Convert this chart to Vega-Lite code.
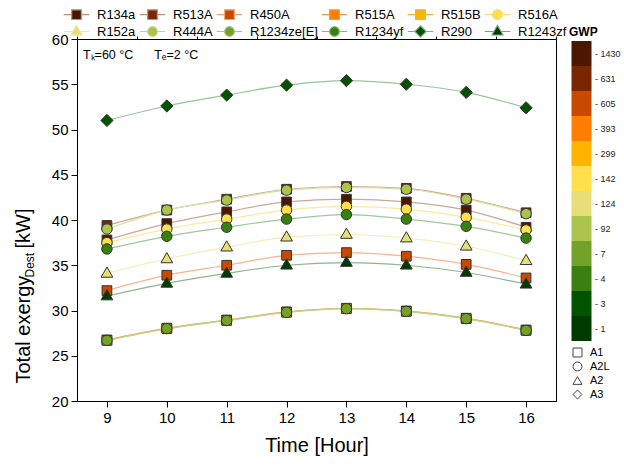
{
  "$schema": "https://vega.github.io/schema/vega-lite/v6.json",
  "width": 479,
  "height": 362,
  "autosize": "none",
  "padding": {"left": 77, "top": 39, "right": 68, "bottom": 65},
  "background": "white",
  "config": {
    "font": "Liberation Sans",
    "view": {"stroke": "#000", "strokeWidth": 1},
    "axis": {"domainColor": "#000", "tickColor": "#000", "labelColor": "#000", "titleColor": "#000", "grid": false, "labelFontSize": 15, "titleFontSize": 20, "titleFontWeight": "normal", "ticks": true, "tickSize": 6, "tickWidth": 1, "labelPadding": 3},
    "legend": {"labelFont": "Liberation Sans", "labelColor": "#000"}
  },
  "datasets": {
    "main": [
      {"r": "R134a", "gwp": "1430", "safety": "A1", "h": 9, "v": 37.8}, {"r": "R134a", "gwp": "1430", "safety": "A1", "h": 10, "v": 39.6}, {"r": "R134a", "gwp": "1430", "safety": "A1", "h": 11, "v": 40.9}, {"r": "R134a", "gwp": "1430", "safety": "A1", "h": 12, "v": 42.0}, {"r": "R134a", "gwp": "1430", "safety": "A1", "h": 13, "v": 42.3}, {"r": "R134a", "gwp": "1430", "safety": "A1", "h": 14, "v": 42.0}, {"r": "R134a", "gwp": "1430", "safety": "A1", "h": 15, "v": 41.1}, {"r": "R134a", "gwp": "1430", "safety": "A1", "h": 16, "v": 39.2},
      {"r": "R513A", "gwp": "631", "safety": "A1", "h": 9, "v": 39.4}, {"r": "R513A", "gwp": "631", "safety": "A1", "h": 10, "v": 41.1}, {"r": "R513A", "gwp": "631", "safety": "A1", "h": 11, "v": 42.3}, {"r": "R513A", "gwp": "631", "safety": "A1", "h": 12, "v": 43.4}, {"r": "R513A", "gwp": "631", "safety": "A1", "h": 13, "v": 43.7}, {"r": "R513A", "gwp": "631", "safety": "A1", "h": 14, "v": 43.5}, {"r": "R513A", "gwp": "631", "safety": "A1", "h": 15, "v": 42.4}, {"r": "R513A", "gwp": "631", "safety": "A1", "h": 16, "v": 40.8},
      {"r": "R450A", "gwp": "605", "safety": "A1", "h": 9, "v": 32.2}, {"r": "R450A", "gwp": "605", "safety": "A1", "h": 10, "v": 33.9}, {"r": "R450A", "gwp": "605", "safety": "A1", "h": 11, "v": 35.0}, {"r": "R450A", "gwp": "605", "safety": "A1", "h": 12, "v": 36.1}, {"r": "R450A", "gwp": "605", "safety": "A1", "h": 13, "v": 36.4}, {"r": "R450A", "gwp": "605", "safety": "A1", "h": 14, "v": 36.0}, {"r": "R450A", "gwp": "605", "safety": "A1", "h": 15, "v": 35.1}, {"r": "R450A", "gwp": "605", "safety": "A1", "h": 16, "v": 33.6},
      {"r": "R515A", "gwp": "393", "safety": "A1", "h": 9, "v": 26.75}, {"r": "R515A", "gwp": "393", "safety": "A1", "h": 10, "v": 28.05}, {"r": "R515A", "gwp": "393", "safety": "A1", "h": 11, "v": 28.95}, {"r": "R515A", "gwp": "393", "safety": "A1", "h": 12, "v": 29.85}, {"r": "R515A", "gwp": "393", "safety": "A1", "h": 13, "v": 30.25}, {"r": "R515A", "gwp": "393", "safety": "A1", "h": 14, "v": 29.95}, {"r": "R515A", "gwp": "393", "safety": "A1", "h": 15, "v": 29.15}, {"r": "R515A", "gwp": "393", "safety": "A1", "h": 16, "v": 27.85},
      {"r": "R515B", "gwp": "299", "safety": "A1", "h": 9, "v": 26.7}, {"r": "R515B", "gwp": "299", "safety": "A1", "h": 10, "v": 28.0}, {"r": "R515B", "gwp": "299", "safety": "A1", "h": 11, "v": 28.9}, {"r": "R515B", "gwp": "299", "safety": "A1", "h": 12, "v": 29.8}, {"r": "R515B", "gwp": "299", "safety": "A1", "h": 13, "v": 30.2}, {"r": "R515B", "gwp": "299", "safety": "A1", "h": 14, "v": 29.9}, {"r": "R515B", "gwp": "299", "safety": "A1", "h": 15, "v": 29.1}, {"r": "R515B", "gwp": "299", "safety": "A1", "h": 16, "v": 27.8},
      {"r": "R516A", "gwp": "142", "safety": "A2L", "h": 9, "v": 37.5}, {"r": "R516A", "gwp": "142", "safety": "A2L", "h": 10, "v": 39.0}, {"r": "R516A", "gwp": "142", "safety": "A2L", "h": 11, "v": 40.1}, {"r": "R516A", "gwp": "142", "safety": "A2L", "h": 12, "v": 41.1}, {"r": "R516A", "gwp": "142", "safety": "A2L", "h": 13, "v": 41.5}, {"r": "R516A", "gwp": "142", "safety": "A2L", "h": 14, "v": 41.2}, {"r": "R516A", "gwp": "142", "safety": "A2L", "h": 15, "v": 40.3}, {"r": "R516A", "gwp": "142", "safety": "A2L", "h": 16, "v": 38.9},
      {"r": "R152a", "gwp": "124", "safety": "A2", "h": 9, "v": 34.1}, {"r": "R152a", "gwp": "124", "safety": "A2", "h": 10, "v": 35.7}, {"r": "R152a", "gwp": "124", "safety": "A2", "h": 11, "v": 37.0}, {"r": "R152a", "gwp": "124", "safety": "A2", "h": 12, "v": 38.1}, {"r": "R152a", "gwp": "124", "safety": "A2", "h": 13, "v": 38.4}, {"r": "R152a", "gwp": "124", "safety": "A2", "h": 14, "v": 38.0}, {"r": "R152a", "gwp": "124", "safety": "A2", "h": 15, "v": 37.1}, {"r": "R152a", "gwp": "124", "safety": "A2", "h": 16, "v": 35.5},
      {"r": "R444A", "gwp": "92", "safety": "A2L", "h": 9, "v": 39.0}, {"r": "R444A", "gwp": "92", "safety": "A2L", "h": 10, "v": 41.1}, {"r": "R444A", "gwp": "92", "safety": "A2L", "h": 11, "v": 42.2}, {"r": "R444A", "gwp": "92", "safety": "A2L", "h": 12, "v": 43.3}, {"r": "R444A", "gwp": "92", "safety": "A2L", "h": 13, "v": 43.6}, {"r": "R444A", "gwp": "92", "safety": "A2L", "h": 14, "v": 43.4}, {"r": "R444A", "gwp": "92", "safety": "A2L", "h": 15, "v": 42.3}, {"r": "R444A", "gwp": "92", "safety": "A2L", "h": 16, "v": 40.7},
      {"r": "R1234ze[E]", "gwp": "7", "safety": "A2L", "h": 9, "v": 26.7}, {"r": "R1234ze[E]", "gwp": "7", "safety": "A2L", "h": 10, "v": 28.0}, {"r": "R1234ze[E]", "gwp": "7", "safety": "A2L", "h": 11, "v": 28.9}, {"r": "R1234ze[E]", "gwp": "7", "safety": "A2L", "h": 12, "v": 29.8}, {"r": "R1234ze[E]", "gwp": "7", "safety": "A2L", "h": 13, "v": 30.2}, {"r": "R1234ze[E]", "gwp": "7", "safety": "A2L", "h": 14, "v": 29.9}, {"r": "R1234ze[E]", "gwp": "7", "safety": "A2L", "h": 15, "v": 29.1}, {"r": "R1234ze[E]", "gwp": "7", "safety": "A2L", "h": 16, "v": 27.8},
      {"r": "R1234yf", "gwp": "4", "safety": "A2L", "h": 9, "v": 36.8}, {"r": "R1234yf", "gwp": "4", "safety": "A2L", "h": 10, "v": 38.2}, {"r": "R1234yf", "gwp": "4", "safety": "A2L", "h": 11, "v": 39.2}, {"r": "R1234yf", "gwp": "4", "safety": "A2L", "h": 12, "v": 40.1}, {"r": "R1234yf", "gwp": "4", "safety": "A2L", "h": 13, "v": 40.6}, {"r": "R1234yf", "gwp": "4", "safety": "A2L", "h": 14, "v": 40.1}, {"r": "R1234yf", "gwp": "4", "safety": "A2L", "h": 15, "v": 39.3}, {"r": "R1234yf", "gwp": "4", "safety": "A2L", "h": 16, "v": 38.0},
      {"r": "R290", "gwp": "3", "safety": "A3", "h": 9, "v": 51.0}, {"r": "R290", "gwp": "3", "safety": "A3", "h": 10, "v": 52.6}, {"r": "R290", "gwp": "3", "safety": "A3", "h": 11, "v": 53.8}, {"r": "R290", "gwp": "3", "safety": "A3", "h": 12, "v": 54.9}, {"r": "R290", "gwp": "3", "safety": "A3", "h": 13, "v": 55.4}, {"r": "R290", "gwp": "3", "safety": "A3", "h": 14, "v": 55.0}, {"r": "R290", "gwp": "3", "safety": "A3", "h": 15, "v": 54.1}, {"r": "R290", "gwp": "3", "safety": "A3", "h": 16, "v": 52.4},
      {"r": "R1243zf", "gwp": "1", "safety": "A2", "h": 9, "v": 31.6}, {"r": "R1243zf", "gwp": "1", "safety": "A2", "h": 10, "v": 33.0}, {"r": "R1243zf", "gwp": "1", "safety": "A2", "h": 11, "v": 34.1}, {"r": "R1243zf", "gwp": "1", "safety": "A2", "h": 12, "v": 35.0}, {"r": "R1243zf", "gwp": "1", "safety": "A2", "h": 13, "v": 35.3}, {"r": "R1243zf", "gwp": "1", "safety": "A2", "h": 14, "v": 35.0}, {"r": "R1243zf", "gwp": "1", "safety": "A2", "h": 15, "v": 34.2}, {"r": "R1243zf", "gwp": "1", "safety": "A2", "h": 16, "v": 32.9}
    ]
  },
  "data": {"name": "main"},
  "layer": [
    {
      "mark": {"type": "line", "interpolate": "monotone", "strokeWidth": 1.2},
      "encoding": {
        "x": {"field": "h", "type": "quantitative", "scale": {"domain": [8.5, 16.5], "nice": false, "zero": false},
          "axis": {"title": "Time [Hour]", "values": [9, 10, 11, 12, 13, 14, 15, 16], "format": "d", "tickSize": 6, "titlePadding": 10}},
        "y": {"field": "v", "type": "quantitative", "scale": {"domain": [20, 60], "nice": false, "zero": false},
          "axis": {"orient": "left", "title": "Total exergy", "values": [20, 25, 30, 35, 40, 45, 50, 55, 60], "tickSize": 6,
            "titleAngle": 270, "titleAlign": "left", "titleBaseline": "alphabetic", "titleX": -48, "titleY": 344}},
        "stroke": {"field": "r", "type": "nominal",
          "scale": {"domain": ["R134a", "R513A", "R450A", "R515A", "R515B", "R516A", "R152a", "R444A", "R1234ze[E]", "R1234yf", "R290", "R1243zf"],
            "range": ["#c9a898", "#d0a890", "#f7b48e", "#f2a04a", "#ecbc40", "#fbe9a0", "#f5edb8", "#d8e2a6", "#bcd39a", "#9fc79a", "#99c499", "#8fb48f"]},
          "legend": null}
      }
    },
    {
      "mark": {"type": "point", "filled": true, "size": 650, "stroke": "#333", "strokeWidth": 1, "opacity": 1},
      "encoding": {
        "x": {"field": "h", "type": "quantitative",
          "axis": {"title": null, "values": [8.5, 9.5, 10.5, 11.5, 12.5, 13.5, 14.5, 15.5, 16.5], "labels": false, "domain": false, "tickSize": 3}},
        "y": {"field": "v", "type": "quantitative",
          "axis": {"orient": "left", "title": "Dest", "labels": false, "ticks": false, "domain": false, "titleFontSize": 12,
            "titleAngle": 270, "titleAlign": "left", "titleBaseline": "alphabetic", "titleX": -44, "titleY": 238}},
        "fill": {"field": "r", "type": "nominal",
          "scale": {"domain": ["R134a", "R513A", "R450A", "R515A", "R515B", "R516A", "R152a", "R444A", "R1234ze[E]", "R1234yf", "R290", "R1243zf"],
            "range": ["#4a1800", "#7a2600", "#c84a00", "#ff7d00", "#ffb400", "#ffe04a", "#e6df78", "#abc44c", "#73a12a", "#3a8010", "#005400", "#003a00"]},
          "legend": null},
        "shape": {"field": "r", "type": "nominal",
          "scale": {"domain": ["R134a", "R513A", "R450A", "R515A", "R515B", "R516A", "R152a", "R444A", "R1234ze[E]", "R1234yf", "R290", "R1243zf"],
            "range": ["M-0.38,-0.38H0.38V0.38H-0.38Z", "M-0.38,-0.38H0.38V0.38H-0.38Z", "M-0.38,-0.38H0.38V0.38H-0.38Z", "M-0.38,-0.38H0.38V0.38H-0.38Z", "M-0.38,-0.38H0.38V0.38H-0.38Z",
              "M0.41,0A0.41,0.41,0,1,1,-0.41,0A0.41,0.41,0,1,1,0.41,0Z", "M0,-0.5L0.46,0.3L-0.46,0.3Z",
              "M0.41,0A0.41,0.41,0,1,1,-0.41,0A0.41,0.41,0,1,1,0.41,0Z", "M0.41,0A0.41,0.41,0,1,1,-0.41,0A0.41,0.41,0,1,1,0.41,0Z", "M0.41,0A0.41,0.41,0,1,1,-0.41,0A0.41,0.41,0,1,1,0.41,0Z",
              "M0,-0.48L0.48,0L0,0.48L-0.48,0Z", "M0,-0.5L0.46,0.3L-0.46,0.3Z"]},
          "legend": null}
      }
    },
    {
      "mark": {"type": "point", "filled": true, "opacity": 0},
      "encoding": {
        "fill": {"field": "r", "type": "nominal",
          "scale": {"domain": ["R134a", "R513A", "R450A", "R515A", "R515B", "R516A", "R152a", "R444A", "R1234ze[E]", "R1234yf", "R290", "R1243zf"],
            "range": ["#4a1800", "#7a2600", "#c84a00", "#ff7d00", "#ffb400", "#ffe04a", "#e6df78", "#abc44c", "#73a12a", "#3a8010", "#005400", "#003a00"]},
          "legend": {"orient": "none", "legendX": -14, "legendY": -31, "direction": "horizontal", "columns": 6, "title": null,
            "symbolSize": 100, "symbolStrokeWidth": 1.2, "symbolOpacity": 1, "symbolOffset": 7, "labelFontSize": 13,
            "columnPadding": 1, "rowPadding": 1, "labelOffset": 14, "labelLimit": 200}},
        "stroke": {"field": "r", "type": "nominal",
          "scale": {"domain": ["R134a", "R513A", "R450A", "R515A", "R515B", "R516A", "R152a", "R444A", "R1234ze[E]", "R1234yf", "R290", "R1243zf"],
            "range": ["#b89080", "#c09078", "#f0a070", "#f09a40", "#e8b430", "#f6dc70", "#efe49a", "#c6d488", "#a8c47e", "#86b682", "#80b080", "#76a076"]},
          "legend": {"orient": "none", "legendX": -14, "legendY": -31, "direction": "horizontal", "columns": 6, "title": null,
            "symbolSize": 100, "symbolStrokeWidth": 1.2, "symbolOpacity": 1, "symbolOffset": 7, "labelFontSize": 13,
            "columnPadding": 1, "rowPadding": 1, "labelOffset": 14, "labelLimit": 200}},
        "shape": {"field": "r", "type": "nominal",
          "scale": {"domain": ["R134a", "R513A", "R450A", "R515A", "R515B", "R516A", "R152a", "R444A", "R1234ze[E]", "R1234yf", "R290", "R1243zf"],
            "range": ["M-2.55,0H-0.97M0.97,0H2.55M-0.97,-0.97H0.97V0.97H-0.97Z", "M-2.55,0H-0.97M0.97,0H2.55M-0.97,-0.97H0.97V0.97H-0.97Z", "M-2.55,0H-0.97M0.97,0H2.55M-0.97,-0.97H0.97V0.97H-0.97Z", "M-2.55,0H-0.97M0.97,0H2.55M-0.97,-0.97H0.97V0.97H-0.97Z", "M-2.55,0H-0.97M0.97,0H2.55M-0.97,-0.97H0.97V0.97H-0.97Z",
              "M-2.55,0H-0.97M0.97,0H2.55M0.97,0A0.97,0.97,0,1,1,-0.97,0A0.97,0.97,0,1,1,0.97,0Z", "M-2.55,0H-0.9M0.9,0H2.55M0,-1.2L1.1,0.7L-1.1,0.7Z",
              "M-2.55,0H-0.97M0.97,0H2.55M0.97,0A0.97,0.97,0,1,1,-0.97,0A0.97,0.97,0,1,1,0.97,0Z", "M-2.55,0H-0.97M0.97,0H2.55M0.97,0A0.97,0.97,0,1,1,-0.97,0A0.97,0.97,0,1,1,0.97,0Z", "M-2.55,0H-0.97M0.97,0H2.55M0.97,0A0.97,0.97,0,1,1,-0.97,0A0.97,0.97,0,1,1,0.97,0Z",
              "M-2.55,0H-1.15M1.15,0H2.55M0,-1.15L1.15,0L0,1.15L-1.15,0Z", "M-2.55,0H-0.9M0.9,0H2.55M0,-1.2L1.1,0.7L-1.1,0.7Z"]},
          "legend": {"orient": "none", "legendX": -14, "legendY": -31, "direction": "horizontal", "columns": 6, "title": null,
            "symbolSize": 100, "symbolStrokeWidth": 1.2, "symbolOpacity": 1, "symbolOffset": 7, "labelFontSize": 13,
            "columnPadding": 1, "rowPadding": 1, "labelOffset": 14, "labelLimit": 200}}
      }
    },
    {
      "mark": {"type": "point", "filled": true, "opacity": 0},
      "encoding": {
        "color": {"field": "gwp", "type": "ordinal",
          "scale": {"domain": ["1430", "631", "605", "393", "299", "142", "124", "92", "7", "4", "3", "1"],
            "range": ["#4a1800", "#7a2600", "#c84a00", "#ff7d00", "#ffb400", "#ffe04a", "#e6df78", "#abc44c", "#73a12a", "#3a8010", "#005400", "#003a00"]},
          "legend": {"orient": "none", "legendX": 492, "legendY": -12, "title": "GWP", "titleFontSize": 12, "titleFontWeight": "bold", "titleColor": "#000", "titlePadding": 2,
            "symbolType": "M-0.8,-1H0.8V1H-0.8Z", "symbolSize": 625, "symbolStrokeWidth": 0, "symbolOpacity": 1, "rowPadding": 0,
            "labelFontSize": 9, "labelOffset": 1, "labelColor": "#222", "labelExpr": "'- ' + datum.label"}}
      }
    },
    {
      "mark": {"type": "point", "filled": false, "opacity": 0, "color": "#444"},
      "encoding": {
        "shape": {"field": "safety", "type": "nominal",
          "scale": {"domain": ["A1", "A2L", "A2", "A3"], "range": ["square", "circle", "triangle-up", "diamond"]},
          "legend": {"orient": "none", "legendX": 495, "legendY": 308, "title": null, "symbolSize": 80, "symbolStrokeWidth": 1, "symbolOpacity": 1,
            "symbolFillColor": "transparent", "symbolStrokeColor": "#444",
            "rowPadding": 1, "labelFontSize": 11, "labelOffset": 7}}
      }
    },
    {
      "data": {"values": [{"h": 8.6, "v": 58.25, "t": "Tₖ=60 °C\u00a0\u00a0\u00a0\u00a0\u00a0\u00a0Tₑ=2 °C"}]},
      "mark": {"type": "text", "align": "left", "baseline": "middle", "fontSize": 12.5, "color": "#000"},
      "encoding": {
        "x": {"field": "h", "type": "quantitative", "axis": null},
        "y": {"field": "v", "type": "quantitative",
          "axis": {"orient": "left", "title": "[kW]", "labels": false, "ticks": false, "domain": false,
            "titleAngle": 270, "titleAlign": "left", "titleBaseline": "alphabetic", "titleX": -48, "titleY": 209}},
        "text": {"field": "t"}
      }
    }
  ],
  "resolve": {"scale": {"stroke": "independent", "fill": "independent", "shape": "independent", "color": "independent"}, "axis": {"x": "independent", "y": "independent"}}
}
